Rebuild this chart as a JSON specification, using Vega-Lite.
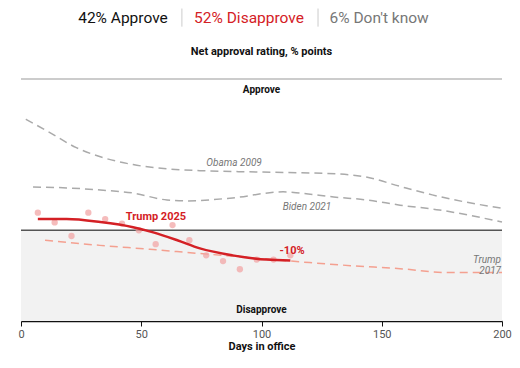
{
  "$schema": "https://vega.github.io/schema/vega-lite/v6.json",
  "width": 481,
  "height": 242,
  "autosize": {"type": "none"},
  "padding": {"left": 21, "top": 79, "right": 18, "bottom": 47},
  "background": "white",
  "config": {"view": {"stroke": null}, "font": "Roboto"},
  "datasets": {
    "obama": [
      {"day": 2, "value": 36.7}, {"day": 12, "value": 32.3}, {"day": 23, "value": 27.3},
      {"day": 33, "value": 24.3}, {"day": 46.6, "value": 21.7}, {"day": 60.7, "value": 20.3},
      {"day": 74.4, "value": 19.7}, {"day": 95, "value": 19.3}, {"day": 116, "value": 19},
      {"day": 132, "value": 18.6}, {"day": 144, "value": 17.5}, {"day": 157.6, "value": 14.5},
      {"day": 171, "value": 11.7}, {"day": 185, "value": 9.3}, {"day": 200, "value": 7.3}
    ],
    "biden": [
      {"day": 5, "value": 14.3}, {"day": 19, "value": 14}, {"day": 33, "value": 13.3},
      {"day": 46.6, "value": 12.3}, {"day": 60.7, "value": 10}, {"day": 69, "value": 9.7},
      {"day": 88, "value": 10.7}, {"day": 109, "value": 12.7}, {"day": 116, "value": 12.3},
      {"day": 130, "value": 11}, {"day": 144, "value": 10}, {"day": 157.6, "value": 8.3},
      {"day": 174, "value": 6.7}, {"day": 200, "value": 2.7}
    ],
    "trump2017": [
      {"day": 10, "value": -3.3}, {"day": 32.8, "value": -5}, {"day": 53.6, "value": -6.3},
      {"day": 74.4, "value": -7.7}, {"day": 95, "value": -9}, {"day": 120, "value": -10.7},
      {"day": 137, "value": -11.7}, {"day": 157.6, "value": -12.7}, {"day": 178, "value": -14},
      {"day": 200, "value": -14}
    ],
    "trump2025": [
      {"day": 7, "value": 3.7}, {"day": 19, "value": 3.7}, {"day": 33, "value": 2.7},
      {"day": 46.6, "value": 1}, {"day": 55, "value": -0.7}, {"day": 65, "value": -3.3},
      {"day": 74.4, "value": -6}, {"day": 88, "value": -8.3}, {"day": 102, "value": -9.7},
      {"day": 112, "value": -10}
    ],
    "polls": [
      {"day": 7, "value": 5.8}, {"day": 14, "value": 2.6}, {"day": 21, "value": -1.9},
      {"day": 28, "value": 5.8}, {"day": 35, "value": 3.7}, {"day": 42, "value": 2.2},
      {"day": 49, "value": 0}, {"day": 56, "value": -4.6}, {"day": 63, "value": 1.7},
      {"day": 70, "value": -3.3}, {"day": 77, "value": -8.3}, {"day": 84, "value": -10.2},
      {"day": 91, "value": -12.9}, {"day": 98, "value": -9.7}, {"day": 105, "value": -9.7},
      {"day": 112, "value": -8.3}
    ]
  },
  "layer": [
    {
      "data": {"values": [{}]},
      "mark": {"type": "rect", "color": "#f2f2f2"},
      "encoding": {
        "x": {"datum": 0, "type": "quantitative", "scale": {"domain": [0, 200], "nice": false}, "axis": {
          "values": [0, 50, 100, 150, 200], "title": "Days in office", "titleFontWeight": "bold",
          "titleFontSize": 11, "titleColor": "#111", "titlePadding": 1, "labelFontSize": 11,
          "labelColor": "#555", "labelPadding": 2, "domainColor": "#111", "domainWidth": 1.5,
          "tickColor": "#111", "tickSize": 5, "grid": false, "labelFlush": false}},
        "x2": {"datum": 200},
        "y": {"datum": -30, "type": "quantitative", "scale": {"domain": [-30, 50], "nice": false, "zero": false}, "axis": null},
        "y2": {"datum": 0}
      }
    },
    {
      "data": {"values": [{}]},
      "mark": {"type": "rule", "color": "#999", "strokeWidth": 1},
      "encoding": {"x": {"datum": 0, "type": "quantitative"}, "x2": {"datum": 200}, "y": {"datum": 50, "type": "quantitative"}}
    },
    {
      "data": {"values": [{}]},
      "mark": {"type": "rule", "color": "#555", "strokeWidth": 1.5},
      "encoding": {"x": {"datum": 0, "type": "quantitative"}, "x2": {"datum": 200}, "y": {"datum": 0, "type": "quantitative"}}
    },
    {
      "data": {"name": "obama"},
      "mark": {"type": "line", "interpolate": "monotone", "color": "#aaa", "strokeWidth": 1.5, "strokeDash": [8, 5]},
      "encoding": {"x": {"field": "day", "type": "quantitative"}, "y": {"field": "value", "type": "quantitative"}}
    },
    {
      "data": {"name": "biden"},
      "mark": {"type": "line", "interpolate": "monotone", "color": "#aaa", "strokeWidth": 1.5, "strokeDash": [8, 5]},
      "encoding": {"x": {"field": "day", "type": "quantitative"}, "y": {"field": "value", "type": "quantitative"}}
    },
    {
      "data": {"name": "trump2017"},
      "mark": {"type": "line", "interpolate": "monotone", "color": "#f4a090", "strokeWidth": 1.5, "strokeDash": [8, 5]},
      "encoding": {"x": {"field": "day", "type": "quantitative"}, "y": {"field": "value", "type": "quantitative"}}
    },
    {
      "data": {"name": "polls"},
      "mark": {"type": "circle", "color": "#f2a5a5", "opacity": 0.75, "size": 40},
      "encoding": {"x": {"field": "day", "type": "quantitative"}, "y": {"field": "value", "type": "quantitative"}}
    },
    {
      "data": {"name": "trump2025"},
      "mark": {"type": "line", "interpolate": "monotone", "color": "#d42025", "strokeWidth": 2.5},
      "encoding": {"x": {"field": "day", "type": "quantitative"}, "y": {"field": "value", "type": "quantitative"}}
    },
    {
      "data": {"values": [{}]},
      "mark": {"type": "text", "text": "42% Approve", "fontSize": 15.5, "color": "#111", "baseline": "middle"},
      "encoding": {"x": {"datum": 42.4, "type": "quantitative"}, "y": {"datum": 70.3, "type": "quantitative"}}
    },
    {
      "data": {"values": [{}]},
      "mark": {"type": "text", "text": "52% Disapprove", "fontSize": 15.5, "color": "#d42025", "baseline": "middle"},
      "encoding": {"x": {"datum": 94.8, "type": "quantitative"}, "y": {"datum": 70.3, "type": "quantitative"}}
    },
    {
      "data": {"values": [{}]},
      "mark": {"type": "text", "text": "6% Don't know", "fontSize": 15.5, "color": "#777", "baseline": "middle"},
      "encoding": {"x": {"datum": 148.9, "type": "quantitative"}, "y": {"datum": 70.3, "type": "quantitative"}}
    },
    {
      "data": {"values": [{}]},
      "mark": {"type": "rule", "color": "#ccc", "strokeWidth": 1},
      "encoding": {"x": {"datum": 66.9, "type": "quantitative"}, "y": {"datum": 73.3, "type": "quantitative"}, "y2": {"datum": 67.3}}
    },
    {
      "data": {"values": [{}]},
      "mark": {"type": "rule", "color": "#ccc", "strokeWidth": 1},
      "encoding": {"x": {"datum": 123.5, "type": "quantitative"}, "y": {"datum": 73.3, "type": "quantitative"}, "y2": {"datum": 67.3}}
    },
    {
      "data": {"values": [{}]},
      "mark": {"type": "text", "text": "Net approval rating, % points", "fontSize": 11, "fontWeight": "bold", "color": "#111", "baseline": "middle"},
      "encoding": {"x": {"datum": 100, "type": "quantitative"}, "y": {"datum": 59, "type": "quantitative"}}
    },
    {
      "data": {"values": [{}]},
      "mark": {"type": "text", "text": "Approve", "fontSize": 10, "fontWeight": "bold", "color": "#111", "baseline": "middle"},
      "encoding": {"x": {"datum": 100, "type": "quantitative"}, "y": {"datum": 46.3, "type": "quantitative"}}
    },
    {
      "data": {"values": [{}]},
      "mark": {"type": "text", "text": "Disapprove", "fontSize": 10, "fontWeight": "bold", "color": "#111", "baseline": "middle"},
      "encoding": {"x": {"datum": 100, "type": "quantitative"}, "y": {"datum": -26.3, "type": "quantitative"}}
    },
    {
      "data": {"values": [{}]},
      "mark": {"type": "text", "text": "Obama 2009", "fontSize": 10, "fontStyle": "italic", "color": "#777", "baseline": "middle"},
      "encoding": {"x": {"datum": 88.6, "type": "quantitative"}, "y": {"datum": 22.3, "type": "quantitative"}}
    },
    {
      "data": {"values": [{}]},
      "mark": {"type": "text", "text": "Biden 2021", "fontSize": 10, "fontStyle": "italic", "color": "#777", "baseline": "middle"},
      "encoding": {"x": {"datum": 118.9, "type": "quantitative"}, "y": {"datum": 7.7, "type": "quantitative"}}
    },
    {
      "data": {"values": [{}]},
      "mark": {"type": "text", "text": ["Trump", "2017"], "lineHeight": 11, "fontSize": 10, "fontStyle": "italic", "color": "#777", "baseline": "middle", "align": "right"},
      "encoding": {"x": {"datum": 199.6, "type": "quantitative"}, "y": {"datum": -9.8, "type": "quantitative"}}
    },
    {
      "data": {"values": [{}]},
      "mark": {"type": "text", "text": "Trump 2025", "fontSize": 11, "fontWeight": "bold", "color": "#d42025", "baseline": "middle"},
      "encoding": {"x": {"datum": 56.1, "type": "quantitative"}, "y": {"datum": 4.3, "type": "quantitative"}}
    },
    {
      "data": {"values": [{}]},
      "mark": {"type": "text", "text": "-10%", "fontSize": 11, "fontWeight": "bold", "color": "#d42025", "baseline": "middle"},
      "encoding": {"x": {"datum": 112.7, "type": "quantitative"}, "y": {"datum": -7, "type": "quantitative"}}
    }
  ]
}
